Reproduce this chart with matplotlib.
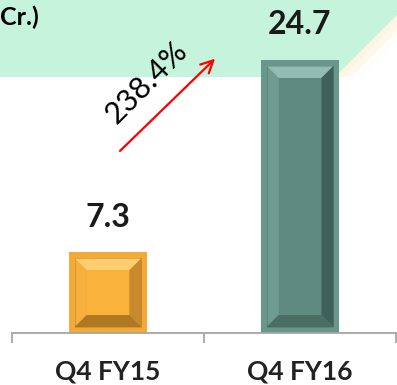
import matplotlib.pyplot as plt
from matplotlib.patches import Polygon

quarters = ["Q4 FY15", "Q4 FY16"]
values = [7.3, 24.7]
growth_label = "238.4%"
unit_label = "Cr.)"

# face, frame, top bevel, left bevel, right bevel, bottom bevel
palettes = [
    ["#F9B23C", "#F3AA36", "#FDCD6E", "#F6B040", "#C88A2C", "#B07822"],
    ["#5E8A7F", "#6A978B", "#93BDB1", "#6E9C90", "#3E6158", "#4A6E64"],
]

W, H, DPI = 397, 385, 100
plt.rcParams["font.family"] = ["Lato", "DejaVu Sans"]

fig = plt.figure(figsize=(W / DPI, H / DPI), dpi=DPI)
fig.patch.set_facecolor("white")


def fpx(x, y):
    """pixel position (origin top-left) -> figure fraction"""
    return (x / W, 1 - y / H)


# mint header band with a slanted right end
band = Polygon([fpx(0, 0), fpx(W, 0), fpx(W, 15), fpx(335, 77), fpx(0, 77)],
               closed=True, transform=fig.transFigure, facecolor="#C6F3DC",
               edgecolor="none", zorder=0)
fig.add_artist(band)
# soft warm glow just under the slant
for i, a in enumerate([0.35, 0.25, 0.15]):
    d = 8 * (i + 1)
    glow = Polygon([fpx(W, 15), fpx(335, 77), fpx(335 + d, 77), fpx(W, 15 + d)],
                   closed=True, transform=fig.transFigure, facecolor="#FCF3CF",
                   edgecolor="none", alpha=a, zorder=0)
    fig.add_artist(glow)

ax = fig.add_axes([12 / W, 52 / H, 384 / W, 331.5 / H])
ax.patch.set_alpha(0)
ax.set_xlim(-0.5, 1.5)
ax.set_ylim(0, 30)

bar_w = 0.41
xs = list(range(len(quarters)))
bars = ax.bar(xs, values, width=bar_w, color=[p[1] for p in palettes],
              edgecolor="none", zorder=2)

# pixel -> data scale factors for the bevel insets
sx = 2.0 / 384
sy = 30.0 / 331.5
frame, bevel = 6, 12

for rect, pal in zip(bars, palettes):
    x0 = rect.get_x()
    x1 = x0 + rect.get_width()
    y0 = 0.0
    y1 = rect.get_height()
    # outer frame edge inset
    fx0, fx1 = x0 + frame * sx, x1 - frame * sx
    fy0, fy1 = y0 + frame * sy, y1 - frame * sy
    # inner face
    ix0, ix1 = fx0 + bevel * sx, fx1 - bevel * sx
    iy0, iy1 = fy0 + bevel * sy, fy1 - bevel * sy
    face, _, top, left, right, bottom = pal
    for pts, col in [
        ([(fx0, fy1), (fx1, fy1), (ix1, iy1), (ix0, iy1)], top),
        ([(fx0, fy0), (fx0, fy1), (ix0, iy1), (ix0, iy0)], left),
        ([(fx1, fy0), (fx1, fy1), (ix1, iy1), (ix1, iy0)], right),
        ([(fx0, fy0), (fx1, fy0), (ix1, iy0), (ix0, iy0)], bottom),
    ]:
        ax.add_patch(Polygon(pts, closed=True, facecolor=col, edgecolor="none", zorder=3))
    ax.add_patch(Polygon([(ix0, iy0), (ix1, iy0), (ix1, iy1), (ix0, iy1)],
                         closed=True, facecolor=face, edgecolor="none", zorder=3))
    # thin dark seam between frame and bevel
    ax.plot([fx0, fx0, fx1, fx1, fx0], [fy0, fy1, fy1, fy0, fy0],
            color="#000000", alpha=0.12, lw=0.8, zorder=4)

for x, v in zip(xs, values):
    ax.annotate(f"{v:.1f}", (x, v), xytext=(0, 15), textcoords="offset points",
                ha="center", va="bottom", fontsize=23, fontweight="bold",
                color="#1a1a1a", zorder=5)

# growth arrow between the two bars
ax.annotate("", xy=(0.568, 25.0), xytext=(0.052, 16.3),
            arrowprops=dict(arrowstyle="->", color="red", lw=1.6,
                            mutation_scale=22), zorder=5)
ax.text(0.2, 22.7, growth_label, rotation=45, ha="center", va="center",
        fontsize=22, color="black", rotation_mode="anchor", zorder=5)

fig.text(0, fpx(0, 17)[1], unit_label, ha="left", va="center",
         fontsize=18, fontweight="bold", color="black")

for s in ["top", "left", "right"]:
    ax.spines[s].set_visible(False)
ax.spines["bottom"].set_color("#A6A6A6")
ax.spines["bottom"].set_linewidth(1.3)
ax.set_yticks([])
ax.set_xticks([-0.5, 0.5, 1.5])
ax.set_xticklabels([])
ax.tick_params(axis="x", which="major", length=7.5, width=1.3, color="#A6A6A6")
ax.set_xticks(xs, minor=True)
ax.set_xticklabels(quarters, minor=True, fontsize=19, fontweight="bold",
                   color="#222222")
ax.tick_params(axis="x", which="minor", length=0, pad=19)
for t in ax.get_xticklines():
    t.set_clip_on(False)

fig.savefig("out.png", dpi=DPI)
